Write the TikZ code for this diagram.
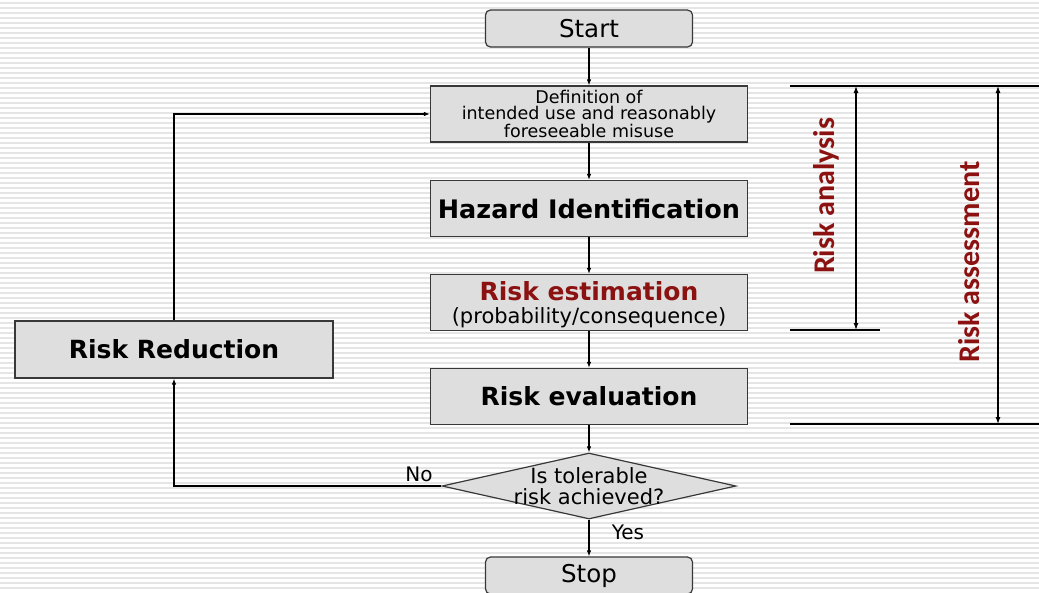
\documentclass[tikz,border=0pt]{standalone}
\usepackage{fontspec}
\setmainfont{DejaVu Sans}
\newfontfamily\sidefont{Carlito}
\usetikzlibrary{shapes.geometric,arrows.meta}
\definecolor{boxfill}{gray}{0.87}
\definecolor{boxline}{gray}{0.22}
\definecolor{riskred}{RGB}{140,18,18}
\definecolor{stripecol}{gray}{0.90}
\tikzset{
  stepbox/.style={draw=boxline,fill=boxfill,rectangle,line width=1.2pt,minimum width=317pt,minimum height=56pt,inner sep=0pt,align=center},
  termbox/.style={draw=boxline,fill=boxfill,rounded corners=5pt,line width=1.2pt,minimum width=207pt,minimum height=37pt,inner sep=0pt,font=\fontsize{24.5}{28}\selectfont},
  decision/.style={draw=boxline,fill=boxfill,diamond,line width=1.2pt,minimum width=294pt,minimum height=66pt,inner sep=0pt},
  boldtxt/.style={font=\fontsize{25}{28}\selectfont\bfseries},
  lab/.style={font=\fontsize{20}{23}\selectfont},
  sidelab/.style={font=\sidefont\fontsize{30}{34}\selectfont\bfseries,text=riskred,rotate=90},
  flow/.style={-{Latex[length=6pt,width=4.5pt]},line width=1.1pt},
  dim/.style={{Latex[length=7pt,width=5pt]}-{Latex[length=7pt,width=5pt]},line width=1.1pt},
}
\begin{document}
\begin{tikzpicture}[x=1pt,y=-1pt]
  \useasboundingbox (0,0) rectangle (1039,592);
  % striped background
  \fill[white] (0,0) rectangle (1039,592);
  \foreach \y in {3,8,...,592}
    \draw[stripecol,line width=1.6pt] (0,\y) -- (1039,\y);
  % main flow
  \node[termbox] (start) at (589,28.5) {Start};
  \node[stepbox,font=\fontsize{17.5}{16.5}\selectfont] (define) at (589,114)
    {Definition of\\intended use and reasonably\\foreseeable misuse};
  \node[stepbox,font=\fontsize{25.5}{28}\selectfont\bfseries] (hazard) at (589,208.5) {Hazard Identification};
  \node[stepbox] (estim) at (589,302.5) {};
  \node[font=\fontsize{25}{28}\selectfont\bfseries,text=riskred] (estimtop) at (589,291) {Risk estimation};
  \node[font=\fontsize{21}{24}\selectfont] (estimsub) at (589,318) {(probability/consequence)};
  \node[stepbox,boldtxt] (evalu) at (589,396.5) {Risk evaluation};
  \node[decision] (check) at (589,486) {};
  \node[align=center,font=\fontsize{21}{21}\selectfont] (checktxt) at (589,486) {Is tolerable\\risk achieved?};
  \node[termbox] (stop) at (589,575.5) {Stop};
  \node[stepbox,boldtxt,minimum width=318pt,minimum height=57pt] (reduce) at (174,349.5) {Risk Reduction};
  % connectors
  \draw[flow] (start) -- (define);
  \draw[flow] (define) -- (hazard);
  \draw[flow] (hazard) -- (estim);
  \draw[flow] (estim) -- (evalu);
  \draw[flow] (evalu) -- (check);
  \draw[flow] (check) -- (stop);
  \draw[flow] (check.west) -| (reduce.south);
  \draw[flow] (reduce.north) |- (define.west);
  \node[lab] (nolab) at (419,474) {No};
  \node[lab] (yeslab) at (628,532) {Yes};
  % side brackets
  \coordinate (topL) at (790,86);
  \coordinate (topR) at (1039,86);
  \coordinate (midL) at (790,330);
  \coordinate (midR) at (880,330);
  \coordinate (botL) at (790,424);
  \coordinate (botR) at (1039,424);
  \draw[line width=1.1pt] (topL) -- (topR);
  \draw[line width=1.1pt] (midL) -- (midR);
  \draw[line width=1.1pt] (botL) -- (botR);
  \draw[dim] (856,86) -- (856,330);
  \draw[dim] (998,86) -- (998,424);
  \node[sidelab] (analysis) at (826,196) {Risk analysis};
  \node[sidelab] (assess) at (969,262) {Risk assessment};
\end{tikzpicture}
\end{document}
